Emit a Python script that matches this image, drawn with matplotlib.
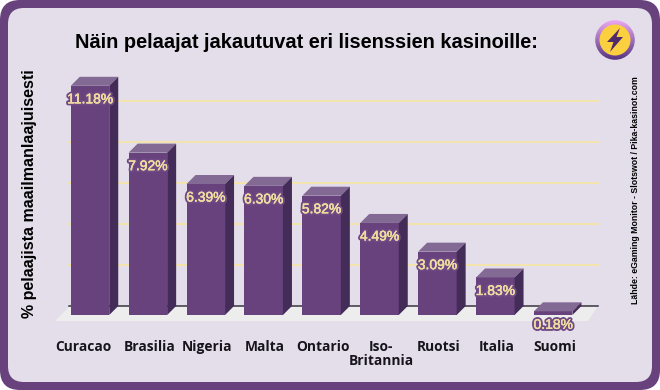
import numpy as np
import matplotlib
matplotlib.use('Agg')
import matplotlib.pyplot as plt
import matplotlib.patheffects as pe
from matplotlib.patches import FancyBboxPatch, Circle, Polygon

countries = ['Curacao', 'Brasilia', 'Nigeria', 'Malta', 'Ontario', 'Iso-\nBritannia', 'Ruotsi', 'Italia', 'Suomi']
shares = [11.18, 7.92, 6.39, 6.30, 5.82, 4.49, 3.09, 1.83, 0.18]
labels = ['11.18%', '7.92%', '6.39%', '6.30%', '5.82%', '4.49%', '3.09%', '1.83%', '0.18%']
grid_values = [2, 4, 6, 8, 10]

PURPLE = '#68427d'
SIDE = '#432c57'
TOP = '#836a95'
PANEL = '#e3deea'
CREAM = '#efdc9f'

fig = plt.figure(figsize=(6.6, 3.9), dpi=100, facecolor='white')

# background layer works in pixels
bg = fig.add_axes([0, 0, 1, 1], zorder=0)
bg.set_xlim(0, 660)
bg.set_ylim(390, 0)
bg.axis('off')
bg.add_patch(FancyBboxPatch((16, 16), 628, 358, boxstyle='round,pad=16,rounding_size=20',
                            fc=PURPLE, ec='none'))
bg.add_patch(FancyBboxPatch((22, 22), 616, 346, boxstyle='round,pad=14,rounding_size=16',
                            fc=PANEL, ec='none'))

# floor
bg.add_patch(Polygon([(70, 306), (598, 306), (588, 321), (55, 321)], fc='#ededed', ec='none'))

# lightning icon
grad = np.linspace(0, 1, 64).reshape(-1, 1)
ring_cmap = matplotlib.colors.LinearSegmentedColormap.from_list('ring', ['#eba8f2', '#a070b8', '#573580'])
ring = bg.imshow(grad, extent=(595, 635, 60, 20), cmap=ring_cmap, aspect='auto', zorder=2)
ring.set_clip_path(Circle((615, 40), 19.8, transform=bg.transData))
bg.set_xlim(0, 660)
bg.set_ylim(390, 0)
bg.add_patch(Circle((615, 40), 15.5, fc='#fbd03f', ec='none', zorder=3))
bg.add_patch(Polygon([(620, 28), (607, 42), (613.5, 42), (610, 52), (623, 37), (616.5, 37)],
                     fc='#4e2a6b', ec='none', zorder=4))

# chart layer: x in category index, y in percent
px_x = 57.9
px_y = 20.5
ax = fig.add_axes([0, 0, 1, 1], zorder=1)
ax.set_xlim(-90 / px_x, 570 / px_x)
ax.set_ylim(-75 / px_y, 315 / px_y)
ax.axis('off')

depth_x = 9 / px_x
depth_y = 9 / px_y
width = 38.5 / px_x
x = np.arange(len(countries))

for g in grid_values:
    ax.plot([-0.36, 8.78], [g + depth_y, g + depth_y], color='#f5e5a8', lw=1.3, zorder=1)
ax.plot([-0.36, 8.78], [depth_y, depth_y], color='#3a3340', lw=1.1, zorder=1)

ax.bar(x, shares, width=width, color=PURPLE, zorder=3)

for xi, v, lab in zip(x, shares, labels):
    l = xi - width / 2
    r = xi + width / 2
    ax.fill([l, r, r + depth_x, l + depth_x], [v, v, v + depth_y, v + depth_y], color=TOP, lw=0, zorder=3)
    ax.fill([r, r + depth_x, r + depth_x, r], [0, depth_y, v + depth_y, v], color=SIDE, lw=0, zorder=3)
    ax.annotate(lab, (xi, v), xytext=(0, -13.5 * 0.72), textcoords='offset points', ha='center', va='center',
                fontsize=10, family='Liberation Sans', color=CREAM, zorder=5,
                path_effects=[pe.withStroke(linewidth=3.0, foreground='#6f4a86'),
                              pe.withStroke(linewidth=0.3, foreground=CREAM)])

for xi, name in zip(x, countries):
    # first label sits a little left of its bar in the original
    shift = -5 if name == 'Curacao' else 1
    ax.annotate(name, (xi, 0), xytext=(shift, -18), textcoords='offset points', ha='center', va='top',
                fontsize=9.9, family='Open Sans', weight='bold', color='#17141c', linespacing=1.02)

fig.text(306.5 / 660, 1 - 42 / 390, 'Näin pelaajat jakautuvat eri lisenssien kasinoille:', ha='center', va='center',
         fontsize=14.45, family='Liberation Sans', weight='bold', color='black')
fig.text(30 / 660, 1 - 193.5 / 390, '% pelaajista maailmanlaajuisesti', rotation=90, ha='center', va='center',
         fontsize=11.55, family='Liberation Sans', weight='bold', color='black')
fig.text(636 / 660, 1 - 190 / 390, 'Lähde: eGaming Monitor - Slotswot / Pika-kasinot.com', rotation=90,
         ha='center', va='center', fontsize=6.3, family='Liberation Sans', weight='bold', color='black')

fig.savefig('out.png', dpi=100, facecolor='white')
